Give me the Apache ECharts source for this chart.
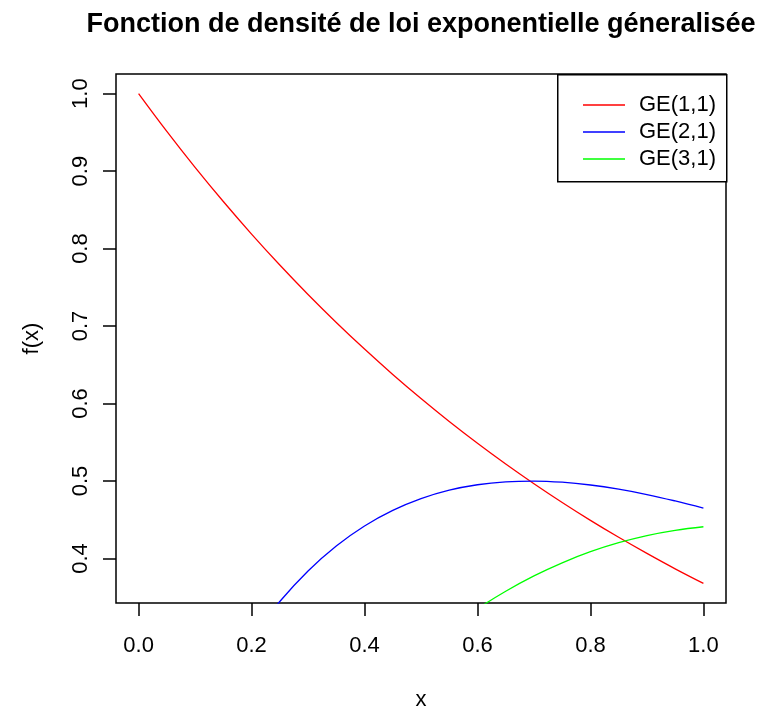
<!DOCTYPE html>
<html>
<head>
<meta charset="utf-8">
<script src="https://cdn.jsdelivr.net/npm/echarts@6/dist/echarts.min.js"></script>
<style>html,body{margin:0;padding:0;background:#fff;}#c{width:761px;height:710px;}</style>
</head>
<body>
<div id="c"></div>
<script>
var xs = [0, 0.05, 0.10, 0.15, 0.20, 0.25, 0.30, 0.35, 0.40, 0.45, 0.50, 0.55, 0.60, 0.65, 0.70, 0.75, 0.80, 0.85, 0.90, 0.95, 1.00];
var ge11 = [1.0000, 0.9512, 0.9048, 0.8607, 0.8187, 0.7788, 0.7408, 0.7047, 0.6703, 0.6376, 0.6065, 0.5769, 0.5488, 0.5220, 0.4966, 0.4724, 0.4493, 0.4274, 0.4066, 0.3867, 0.3679];
var ge21 = [0.0000, 0.0928, 0.1723, 0.2398, 0.2969, 0.3445, 0.3840, 0.4162, 0.4420, 0.4621, 0.4773, 0.4882, 0.4952, 0.4990, 0.5000, 0.4985, 0.4949, 0.4895, 0.4826, 0.4743, 0.4651];
var ge31 = [0.0000, 0.0068, 0.0246, 0.0501, 0.0807, 0.1143, 0.1493, 0.1844, 0.2186, 0.2512, 0.2817, 0.3098, 0.3352, 0.3578, 0.3776, 0.3945, 0.4088, 0.4204, 0.4296, 0.4363, 0.4410];
var xTicks = [0, 0.2, 0.4, 0.6, 0.8, 1.0];
var yTicks = [0.4, 0.5, 0.6, 0.7, 0.8, 0.9, 1.0];
var seriesNames = ['GE(1,1)', 'GE(2,1)', 'GE(3,1)'];
var seriesColors = ['#FF0000', '#0000FF', '#00FF00'];

function pairs(ys) { return xs.map(function (x, i) { return [x, ys[i]]; }); }
var FONT = "'Liberation Sans', Arial, sans-serif";
var chart = echarts.init(document.getElementById('c'), null, {renderer: 'canvas'});
var allY = [ge11, ge21, ge31];
chart.setOption({
  animation: false,
  backgroundColor: '#fff',
  title: {
    text: 'Fonction de densité de loi exponentielle géneralisée',
    left: 416, top: 6, textAlign: 'center',
    textStyle: {fontFamily: FONT, fontSize: 27, fontWeight: 'bold', color: '#000'}
  },
  grid: {left: 116, top: 74, right: 35, bottom: 107, outerBoundsMode: 'none', containLabel: false,
    show: true, borderColor: '#000', borderWidth: 1.5, backgroundColor: 'transparent'},
  xAxis: {
    type: 'value', min: -0.04, max: 1.04,
    name: 'x', nameLocation: 'middle', nameGap: 86,
    nameTextStyle: {fontFamily: FONT, fontSize: 22, color: '#000'},
    axisLine: {show: false, onZero: false},
    splitLine: {show: false},
    axisTick: {show: true, customValues: xTicks, length: 13, lineStyle: {color: '#000', width: 1.5}},
    axisLabel: {customValues: xTicks, margin: 32, fontFamily: FONT, fontSize: 22, color: '#000',
      formatter: function (v) { return v.toFixed(1); }}
  },
  yAxis: {
    type: 'value', min: 0.3426, max: 1.0253,
    name: 'f(x)', nameLocation: 'middle', nameGap: 73, nameRotate: 90,
    nameTextStyle: {fontFamily: FONT, fontSize: 22, color: '#000'},
    axisLine: {show: false, onZero: false},
    splitLine: {show: false},
    axisTick: {show: true, customValues: yTicks, length: 13, lineStyle: {color: '#000', width: 1.5}},
    axisLabel: {customValues: yTicks, margin: 24, rotate: 90, fontFamily: FONT, fontSize: 22, color: '#000',
      formatter: function (v) { return v.toFixed(1); }}
  },
  legend: {
    orient: 'vertical', left: 578, top: 89,
    icon: 'rect', itemWidth: 42, itemHeight: 1.5, itemGap: 5,
    data: seriesNames,
    textStyle: {fontFamily: FONT, fontSize: 22, color: '#000', padding: [0, 0, 0, 9]}
  },
  graphic: [{
    type: 'rect', left: 557, top: 74, z: 0,
    shape: {width: 169, height: 107},
    style: {fill: '#fff', stroke: '#000', lineWidth: 1.5}
  }],
  series: seriesNames.map(function (n, i) {
    return {
      name: n, type: 'line', data: pairs(allY[i]), symbol: 'none', clip: true, smooth: 0.4,
      lineStyle: {color: seriesColors[i], width: 1.3}, itemStyle: {color: seriesColors[i]}
    };
  })
});
</script>
</body>
</html>
